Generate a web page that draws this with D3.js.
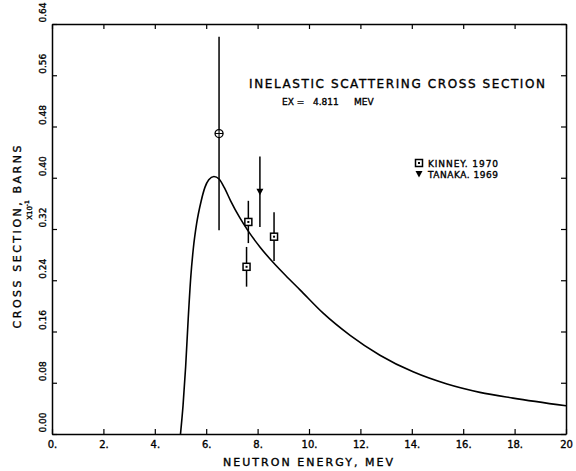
<!DOCTYPE html>
<html>
<head>
<meta charset="utf-8">
<script src="https://cdn.jsdelivr.net/npm/d3@7"></script>
<style>
body { margin: 0; background: #fff; }
text { font-family: "DejaVu Sans", sans-serif; fill: #000; stroke: #000; stroke-width: 0.35px; }
</style>
</head>
<body>
<svg width="576" height="471"></svg>
<script>
// calculated cross section curve (MeV, barns x10^-1)
var curveE = [5.00, 5.10, 5.20, 5.30, 5.40, 5.50, 5.63, 5.80, 5.95, 6.10, 6.30, 6.50, 6.70, 6.95, 7.30, 7.63, 8.09, 8.60, 9.10, 9.65, 10.54, 11.60, 12.76, 14.05, 15.37, 16.65, 17.94, 20.0];
var curveS = [0.000, 0.045, 0.105, 0.180, 0.245, 0.290, 0.329, 0.363, 0.385, 0.397, 0.402, 0.398, 0.385, 0.364, 0.338, 0.317, 0.292, 0.268, 0.247, 0.225, 0.189, 0.154, 0.123, 0.097, 0.078, 0.065, 0.056, 0.044];

// measurements
var kinneyE = [7.57, 7.64, 8.64];
var kinneyS = [0.261, 0.331, 0.308];
var kinneyErr = [0.031, 0.033, 0.038];
var tanakaE = [8.09];
var tanakaS = [0.378];
var tanakaErr = [0.055];
var otherE = [6.50];
var otherS = [0.469];
var otherErr = [0.151];

var xTicks = [0, 2, 4, 6, 8, 10, 12, 14, 16, 18, 20];
var xTickLabels = ["0.", "2.", "4.", "6.", "8.", "10.", "12.", "14.", "16.", "18.", "20"];
var yTicks = [0, 0.08, 0.16, 0.24, 0.32, 0.40, 0.48, 0.56, 0.64];
var yTickLabels = ["0.00", "0.08", "0.16", "0.24", "0.32", "0.40", "0.48", "0.56", "0.64"];

var svg = d3.select("svg");
var x = d3.scaleLinear().domain([0, 20]).range([52, 566]);
var y = d3.scaleLinear().domain([0, 0.64]).range([434, 24]);

function styleAxis(g) {
  g.attr("font-family", "DejaVu Sans Mono").attr("font-size", 10);
  g.select(".domain").attr("stroke-width", 1.5);
  g.selectAll(".tick line").attr("stroke-width", 1.2);
}

// bottom
svg.append("g").attr("transform", "translate(0," + y(0) + ")")
  .call(d3.axisBottom(x).tickValues(xTicks).tickSize(-5).tickSizeOuter(0).tickPadding(7)
    .tickFormat(function(d, i) { return xTickLabels[i]; }))
  .call(styleAxis);
// top
svg.append("g").attr("transform", "translate(0," + y(0.64) + ")")
  .call(d3.axisTop(x).tickValues(xTicks).tickSize(-5).tickSizeOuter(0).tickFormat(""))
  .call(styleAxis);
// left
var gy = svg.append("g").attr("transform", "translate(" + x(0) + ",0)")
  .call(d3.axisLeft(y).tickValues(yTicks).tickSize(-5).tickSizeOuter(0)
    .tickFormat(function(d, i) { return yTickLabels[i]; }))
  .call(styleAxis);
gy.attr("font-size", 9);
gy.selectAll(".tick text")
  .attr("x", null).attr("dy", null)
  .attr("text-anchor", "start")
  .attr("transform", "translate(-6,-2) rotate(-90)");
// right
svg.append("g").attr("transform", "translate(" + x(20) + ",0)")
  .call(d3.axisRight(y).tickValues(yTicks).tickSize(-5).tickSizeOuter(0).tickFormat(""))
  .call(styleAxis);

// axis titles
svg.append("text")
  .attr("x", 308).attr("y", 466)
  .attr("text-anchor", "middle")
  .attr("font-size", 11)
  .attr("textLength", 170).attr("lengthAdjust", "spacing")
  .text("NEUTRON ENERGY, MEV");

svg.append("text")
  .attr("transform", "translate(21,237) rotate(-90)")
  .attr("text-anchor", "middle")
  .attr("font-size", 11)
  .attr("textLength", 183).attr("lengthAdjust", "spacing")
  .text("CROSS SECTION, BARNS");

var mult = svg.append("text")
  .attr("transform", "translate(32,210) rotate(-90)")
  .attr("text-anchor", "middle")
  .attr("font-size", 7);
mult.append("tspan").text("X10");
mult.append("tspan").attr("dy", -3).attr("font-size", 6).text("-1");

// titles
svg.append("text")
  .attr("x", 249).attr("y", 88)
  .attr("font-size", 12)
  .attr("textLength", 296).attr("lengthAdjust", "spacing")
  .text("INELASTIC SCATTERING CROSS SECTION");

var exParts = ["EX =", "4.811", "MEV"];
var exX = [282, 313, 354];
svg.selectAll(".ex").data(exParts).enter().append("text")
  .attr("class", "ex")
  .attr("x", function(d, i) { return exX[i]; })
  .attr("y", 105)
  .attr("font-family", "DejaVu Sans Mono")
  .attr("font-size", 9)
  .text(function(d) { return d; });

// curve
var curvePts = curveE.map(function(e, i) { return [e, curveS[i]]; });
svg.append("path")
  .datum(curvePts)
  .attr("fill", "none")
  .attr("stroke", "#000")
  .attr("stroke-width", 1.6)
  .attr("d", d3.line()
    .x(function(d) { return x(d[0]); })
    .y(function(d) { return y(d[1]); })
    .curve(d3.curveMonotoneX));

// error bars
function errBars(E, S, Err) {
  svg.append("g").selectAll("line").data(E).enter().append("line")
    .attr("x1", function(d) { return x(d); })
    .attr("x2", function(d) { return x(d); })
    .attr("y1", function(d, i) { return y(S[i] - Err[i]); })
    .attr("y2", function(d, i) { return y(S[i] + Err[i]); })
    .attr("stroke", "#000")
    .attr("stroke-width", 1.5);
}
errBars(otherE, otherS, otherErr);
errBars(kinneyE, kinneyS, kinneyErr);
errBars(tanakaE, tanakaS, tanakaErr);

// circle-plus
var cp = svg.append("g").selectAll("g").data(otherE).enter().append("g")
  .attr("transform", function(d, i) { return "translate(" + x(d) + "," + y(otherS[i]) + ")"; });
cp.append("circle").attr("r", 4).attr("fill", "#fff").attr("stroke", "#000").attr("stroke-width", 1.3);
cp.append("path").attr("d", "M-4,0H4M0,-4V4").attr("stroke", "#000").attr("stroke-width", 1.1);

// squares
function square(g) {
  g.append("rect").attr("x", -3.5).attr("y", -3.5).attr("width", 7).attr("height", 7)
    .attr("fill", "#fff").attr("stroke", "#000").attr("stroke-width", 1.5);
  g.append("rect").attr("x", -1).attr("y", -1).attr("width", 2).attr("height", 2).attr("fill", "#000");
}
svg.append("g").selectAll("g").data(kinneyE).enter().append("g")
  .attr("transform", function(d, i) { return "translate(" + x(d) + "," + y(kinneyS[i]) + ")"; })
  .call(square);

// triangles
function triangle(g) {
  g.append("path").attr("d", "M-3.5,-3L3.5,-3L0,3.5Z").attr("fill", "#000");
}
svg.append("g").selectAll("g").data(tanakaE).enter().append("g")
  .attr("transform", function(d, i) { return "translate(" + x(d) + "," + y(tanakaS[i]) + ")"; })
  .call(triangle);

// legend
var legendNames = ["KINNEY. 1970", "TANAKA. 1969"];
var legendY = [163, 174];
var leg = svg.append("g").selectAll("g").data(legendNames).enter().append("g")
  .attr("transform", function(d, i) { return "translate(419," + legendY[i] + ")"; });
leg.filter(function(d, i) { return i == 0; }).call(square);
leg.filter(function(d, i) { return i == 1; }).call(triangle);
leg.append("text")
  .attr("x", 9).attr("y", 3.5)
  .attr("font-size", 9)
  .attr("textLength", 70).attr("lengthAdjust", "spacing")
  .text(function(d) { return d; });
</script>
</body>
</html>
